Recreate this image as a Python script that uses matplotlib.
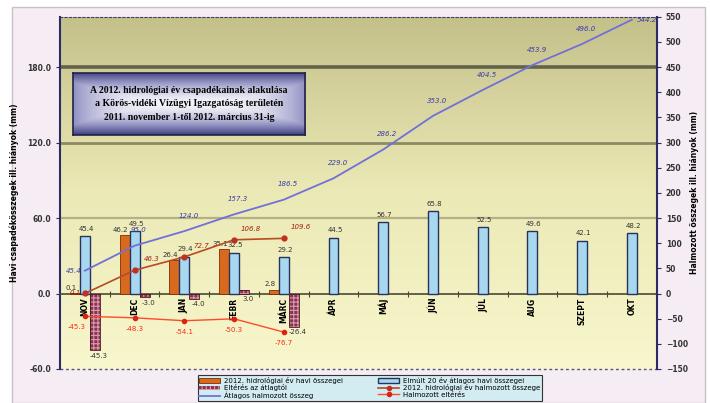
import numpy as np
import matplotlib
matplotlib.use('Agg')
import matplotlib.pyplot as plt
from matplotlib.patches import Patch, Rectangle
from matplotlib.lines import Line2D
from matplotlib.colors import LinearSegmentedColormap


months = ['NOV', 'DEC', 'JAN', 'FEBR', 'MÁRC', 'ÁPR', 'MÁJ', 'JÚN', 'JÚL', 'AUG', 'SZEPT', 'OKT']

# havi összegek (mm) - bal tengely
havi_2012 = [0.1, 46.2, 26.4, 35.1, 2.8]
atlag_20ev = [45.4, 49.5, 29.4, 32.5, 29.2, 44.5, 56.7, 65.8, 52.5, 49.6, 42.1, 48.2]
elteres = [-45.3, -3.0, -4.0, 3.0, -26.4]

# halmozott összegek (mm) - jobb tengely
atlag_halmozott = [45.4, 95.0, 124.0, 157.3, 186.5, 229.0, 286.2, 353.0, 404.5, 453.9, 496.0, 544.2]
halmozott_2012 = [0.1, 46.3, 72.7, 106.8, 109.6]
halmozott_elteres = [-45.3, -48.3, -54.1, -50.3, -76.7]

left_ticks = [-60, 0, 60, 120, 180]
right_ticks = [-150, -100, -50, 0, 50, 100, 150, 200, 250, 300, 350, 400, 450, 500, 550]

title_lines = ['A 2012. hidrológiai év csapadékainak alakulása',
			   'a Körös-vidéki Vízügyi Igazgatóság területén',
			   '2011. november 1-től 2012. március 31-ig']

legend_labels = ['2012. hidrológiai év havi összegei', 'Eltérés az átlagtól', 'Átlagos halmozott összeg',
				 'Elmúlt 20 év átlagos havi összegei', '2012. hidrológiai év halmozott összege', 'Halmozott eltérés']


def main():
	plt.rcParams['hatch.linewidth'] = 0.8
	fig = plt.figure(figsize=(7.1, 4.03), dpi=100)
	fig.patch.set_facecolor('white')
	fig.add_artist(Rectangle((0.017, 0.0), 0.976, 0.983, transform=fig.transFigure,
							 facecolor='#f5ecf4', edgecolor='#c8c0c8', lw=1, zorder=-10))

	ax = fig.add_axes([0.0845, 0.0844, 0.8405, 0.874])
	bg = LinearSegmentedColormap.from_list('bg', ['#f8f7cd', '#ebe9b5', '#c4c08a'])
	ax.imshow(np.linspace(0, 1, 256).reshape(-1, 1), extent=[0, 1, 0, 1], transform=ax.transAxes,
			  cmap=bg, aspect='auto', origin='lower', zorder=0)
	ax.set_xlim(-0.5, 11.5)
	ax.set_ylim(-60, 220)

	# gridlines
	for y, col, lw in zip([60, 120, 180], ['#b3b187', '#8c8a64', '#64624a'], [1.6, 2.0, 2.6]):
		ax.axhline(y, color=col, lw=lw, zorder=1)

	x = np.arange(len(months))
	n = len(havi_2012)

	ax.bar(x[:n] - 0.2, havi_2012, 0.2, color='#d9691f', edgecolor='#7a3000', lw=0.6, zorder=3)
	ax.bar(x, atlag_20ev, 0.2, color='#a8d8f0', edgecolor='#27325e', lw=1.0, zorder=3)
	ax.bar(x[:n] + 0.2, elteres, 0.2, color='#8a3550', hatch='++++', edgecolor='#d79aae', lw=0, zorder=3)
	ax.bar(x[:n] + 0.2, elteres, 0.2, fill=False, edgecolor='#4a1020', lw=0.6, zorder=3)

	for i, v in enumerate(atlag_20ev):
		ax.annotate(f'{v:.1f}', (i, v), xytext=(1, 3), textcoords='offset points',
					ha='center', va='bottom', fontsize=5, color='#333333', zorder=6)
	for i, v in enumerate(havi_2012):
		ax.annotate(f'{v:.1f}', (i - 0.2, v), xytext=(-3, 2), textcoords='offset points',
					ha='center', va='bottom', fontsize=5, color='#333333', zorder=6)
	for i, v in enumerate(elteres):
		ax.annotate(f'{v:.1f}', (i + 0.2, min(v, 0)), xytext=(3, -2), textcoords='offset points',
					ha='center', va='top', fontsize=5, color='#333333', zorder=6)

	for i, m in enumerate(months):
		ax.annotate(m, (i, 0), xytext=(0, -3), textcoords='offset points', rotation=90,
					ha='center', va='top', fontsize=5.5, fontweight='bold', color='black', zorder=6)

	# axes look
	ax.spines['bottom'].set_position(('data', 0))
	ax.spines['bottom'].set_color('#4a4a30')
	ax.spines['bottom'].set_linewidth(1.2)
	ax.spines['top'].set_linestyle((0, (2, 2)))
	ax.spines['top'].set_color('#40406a')
	ax.spines['left'].set_color('#2b2b66')
	ax.spines['left'].set_linewidth(1.5)
	ax.spines['right'].set_visible(False)
	ax.axhline(-60, color='#55557a', ls=(0, (2, 2)), lw=1, clip_on=False, zorder=2)
	ax.set_xticks(np.arange(0.5, 11, 1))
	ax.tick_params(axis='x', direction='inout', length=4, color='#4a4a30', labelbottom=False)
	ax.set_yticks(left_ticks)
	ax.set_yticklabels([f'{t:.1f}' for t in left_ticks])
	ax.tick_params(axis='y', length=3, labelsize=5.5, labelcolor='#333333', color='#2b2b66')
	for t in ax.get_yticklabels():
		t.set_fontweight('bold')
	ax.set_ylabel('Havi csapadékösszegek ill. hiányok (mm)', fontsize=5.5, fontweight='bold')
	ax.yaxis.set_label_coords(-0.068, 0.5)

	ax2 = ax.twinx()
	ax2.set_ylim(-150, 550)
	ax2.set_yticks(right_ticks)
	ax2.tick_params(axis='y', length=3, labelsize=5.5, labelcolor='#333333', color='#2b2b66')
	for t in ax2.get_yticklabels():
		t.set_fontweight('bold')
	for s in ['top', 'bottom', 'left']:
		ax2.spines[s].set_visible(False)
	ax2.spines['right'].set_color('#2b2b66')
	ax2.spines['right'].set_linewidth(1.5)
	ax2.set_ylabel('Halmozott összegek ill. hiányok (mm)', fontsize=5.5, fontweight='bold')
	ax2.yaxis.set_label_coords(1.055, 0.5)

	ax2.plot(x, atlag_halmozott, color='#7070d8', lw=1.3, zorder=4)
	ax2.plot(x[:n], halmozott_2012, color='#b84a24', lw=1.2, marker='o', ms=3.5,
			 mfc='#c03020', mec='#c03020', zorder=5)
	ax2.plot(x[:n], halmozott_elteres, color='#ff4a2a', lw=1.0, marker='o', ms=3,
			 mfc='#e02010', mec='#e02010', zorder=5)

	for i, v in enumerate(atlag_halmozott):
		off = (3, 11)
		if i == 0:
			off = (-8, 0)
		elif i == len(atlag_halmozott) - 1:
			off = (11, 0)
		ax2.annotate(f'{v:.1f}', (i, v), xytext=off, textcoords='offset points', ha='center',
					 va='center', fontsize=5, color='#3a3aaa', style='italic', zorder=6)
	for i, v in enumerate(halmozott_2012):
		off = (12, 8)
		if i == 0:
			off = (-7, 0)
		ax2.annotate(f'{v:.1f}', (i, v), xytext=off, textcoords='offset points', ha='center',
					 va='center', fontsize=5, color='#a02010', style='italic', zorder=6)
	for i, v in enumerate(halmozott_elteres):
		off = (0, -8)
		if i == 0:
			off = (-6, -8)
		ax2.annotate(f'{v:.1f}', (i, v), xytext=off, textcoords='offset points', ha='center',
					 va='center', fontsize=5, color='#ff2a10', zorder=6)

	# title box
	bax = fig.add_axes([0.103, 0.665, 0.327, 0.154])
	v = np.linspace(-1, 1, 200)
	u = np.linspace(-1, 1, 400)
	grad = 1 - np.maximum(np.abs(v)[:, None] ** 1.6, 0.55 * np.abs(u)[None, :] ** 3)
	box_cmap = LinearSegmentedColormap.from_list('box', ['#3e3e80', '#9a9ac8', '#f4f4fa'])
	bax.imshow(grad, extent=[0, 1, 0, 1], cmap=box_cmap, aspect='auto', vmin=0, vmax=1)
	bax.set_xticks([])
	bax.set_yticks([])
	for s in bax.spines.values():
		s.set_color('#22224a')
		s.set_linewidth(1.2)
	for yy, line in zip([0.71, 0.5, 0.28], title_lines):
		bax.text(0.5, yy, line, ha='center', va='center', fontsize=7, fontweight='bold',
				 family='Liberation Serif', color='black', transform=bax.transAxes)

	handles = [Patch(facecolor='#d9691f', edgecolor='#7a3000', lw=0.6),
			   Patch(facecolor='#8a3550', edgecolor='#d79aae', hatch='++++', lw=0),
			   Line2D([], [], color='#7070d8', lw=1.3),
			   Patch(facecolor='#a8d8f0', edgecolor='#27325e', lw=1.0),
			   Line2D([], [], color='#b84a24', lw=1.2, marker='o', ms=3, mfc='#c03020', mec='#c03020'),
			   Line2D([], [], color='#ff4a2a', lw=1.0, marker='o', ms=3, mfc='#e02010', mec='#e02010')]
	leg = fig.legend(handles, legend_labels, ncol=2, loc='center', bbox_to_anchor=(0.521, 0.037),
					 fontsize=5, frameon=True, facecolor='#d3ecf1', edgecolor='#333333', framealpha=1,
					 fancybox=False, handlelength=3, handleheight=0.6, labelspacing=0.05,
					 borderpad=0.25, columnspacing=5, handletextpad=0.6)
	leg.get_frame().set_linewidth(0.8)

	fig.savefig('out.png', dpi=100)


if __name__ == "__main__":
	main()
